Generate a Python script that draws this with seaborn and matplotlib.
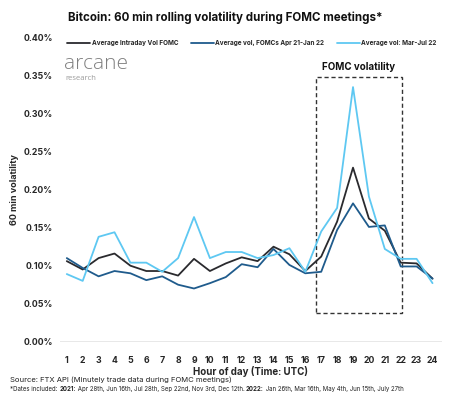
import matplotlib
matplotlib.use("Agg")
import matplotlib.pyplot as plt
import matplotlib.patches as mpatches
import numpy as np
import pandas as pd
import seaborn as sns
from matplotlib.ticker import FuncFormatter

hours = list(range(1, 25))

vol_all = [0.106, 0.095, 0.110, 0.116, 0.100, 0.093, 0.093, 0.087, 0.109, 0.093,
           0.103, 0.111, 0.106, 0.125, 0.115, 0.093, 0.112, 0.158, 0.229, 0.162,
           0.146, 0.104, 0.103, 0.083]
vol_2021 = [0.110, 0.097, 0.086, 0.093, 0.090, 0.081, 0.086, 0.075, 0.070, 0.077,
            0.085, 0.102, 0.098, 0.122, 0.101, 0.090, 0.092, 0.147, 0.182, 0.151,
            0.153, 0.099, 0.099, 0.083]
vol_2022 = [0.089, 0.080, 0.138, 0.144, 0.104, 0.104, 0.092, 0.110, 0.164, 0.110,
            0.118, 0.118, 0.110, 0.114, 0.123, 0.092, 0.145, 0.176, 0.335, 0.191,
            0.122, 0.109, 0.109, 0.077]

series_names = ["Average Intraday Vol FOMC",
                "Average vol, FOMCs Apr 21-Jan 22",
                "Average vol: Mar-Jul 22"]
colors = ["#2a2a2e", "#1f5b8c", "#5ec8f2"]

footnote_parts = [("*Dates included: ", "normal"), ("2021:", "bold"),
                  (" Apr 28th, Jun 16th, Jul 28th, Sep 22nd, Nov 3rd, Dec 12th. ", "normal"),
                  ("2022:", "bold"),
                  (" Jan 26th, Mar 16th, May 4th, Jun 15th, July 27th", "normal")]

df = pd.DataFrame({
    "hour": hours * 3,
    "vol": vol_all + vol_2021 + vol_2022,
    "series": [series_names[0]] * 24 + [series_names[1]] * 24 + [series_names[2]] * 24,
})

sns.set_theme(style="white")
plt.rcParams["font.family"] = ["Inter", "DejaVu Sans"]

fig = plt.figure(figsize=(4.6, 3.99), dpi=100)
ax = fig.add_axes([0.130, 0.1436, 0.831, 0.762])

sns.lineplot(data=df, x="hour", y="vol", hue="series", palette=colors,
             hue_order=series_names, linewidth=1.3, ax=ax, legend=False)

ax.set_xlim(0.56, 24.6)
ax.set_ylim(0, 0.40)
ax.set_xticks(hours)
ax.set_yticks(np.arange(0, 0.401, 0.05))
ax.yaxis.set_major_formatter(FuncFormatter(lambda v, p: f"{v:.2f}%"))
for s in ax.spines.values():
    s.set_visible(False)
ax.axhline(0, color="#e4e4e4", linewidth=1.2, zorder=0)
ax.tick_params(axis="both", length=0, labelsize=6.3, pad=5)
for lab in ax.get_xticklabels() + ax.get_yticklabels():
    lab.set_fontweight("bold")
ax.tick_params(axis="x", pad=10)
ax.set_xlabel("Hour of day (Time: UTC)", fontsize=7, fontweight="bold", labelpad=1)
ax.set_ylabel("60 min volatility", fontsize=6.5, fontweight="bold", labelpad=3)

# FOMC window
box = mpatches.Rectangle((16.66, 0.038), 22.07 - 16.66, 0.348 - 0.038, fill=False,
                         linestyle=(0, (3, 2)), edgecolor="#333333", linewidth=1.0)
ax.add_patch(box)
ax.text(19.37, 0.362, "FOMC volatility", ha="center", va="center",
        fontsize=7, fontweight="bold", color="#111111")

# legend
handles = [plt.Line2D([], [], color=c, linewidth=1.3) for c in colors]
fig.legend(handles, series_names, loc="center", bbox_to_anchor=(0.548, 0.892),
           ncol=3, frameon=False, handlelength=3.6,
           handletextpad=0.2, columnspacing=2.0, prop={"weight": "bold", "size": 4.6})

# logo
fig.text(0.139, 0.826, "arcane", fontsize=15, color="#808080", ha="left", va="baseline",
         family=["Open Sans", "DejaVu Sans"], fontweight="light")
fig.text(0.142, 0.800, "research", fontsize=5.5, color="#9a9a9a", ha="left", va="baseline",
         family=["Open Sans", "DejaVu Sans"])

fig.text(0.49, 0.955, "Bitcoin: 60 min rolling volatility during FOMC meetings*",
         fontsize=8.3, fontweight="bold", ha="center", va="center", color="#111111")

fig.text(0.022, 0.048, "Source: FTX API (Minutely trade data during FOMC meetings)",
         fontsize=5.5, ha="left", va="center", color="#222222")

# footnote with bold years, drawn piece by piece
renderer = fig.canvas.get_renderer()
x = 0.022
for txt, weight in footnote_parts:
    t = fig.text(x, 0.025, txt, fontsize=4.4, fontweight=weight, ha="left",
                 va="center", color="#222222")
    bb = t.get_window_extent(renderer=renderer)
    x += bb.width / fig.bbox.width

fig.savefig("out.png", dpi=100, facecolor="white")
